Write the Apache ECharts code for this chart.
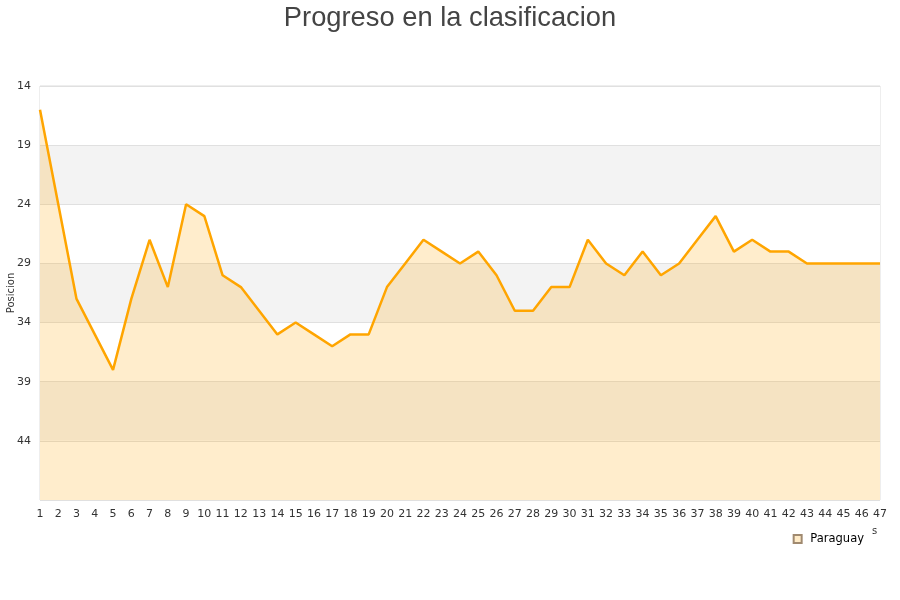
<!DOCTYPE html>
<html>
<head>
<meta charset="utf-8">
<script src="https://cdn.jsdelivr.net/npm/echarts@6/dist/echarts.min.js"></script>
<style>html,body{margin:0;padding:0;background:#fff;}#c{width:900px;height:600px;}</style>
</head>
<body>
<div id="c"></div>
<script>
var jornadas = [];
for (var i = 1; i <= 47; i++) jornadas.push(String(i));
var posiciones = [16,24,32,35,38,32,27,31,24,25,30,31,33,35,34,35,36,35,35,31,29,27,28,29,28,30,33,33,31,31,27,29,30,28,30,29,27,25,28,27,28,28,29,29,29,29,29];
var seriesName = 'Paraguay';
var yTicks = [14,19,24,29,34,39,44];

var chart = echarts.init(document.getElementById('c'), null, {renderer: 'canvas'});
chart.setOption({
  animation: false,
  backgroundColor: '#fff',
  title: {
    text: 'Progreso en la clasificacion',
    left: 'center',
    top: 0,
    textStyle: {fontFamily: 'Liberation Sans', fontSize: 27.3, fontWeight: 'normal', color: '#444'}
  },
  grid: {left: 40, right: 20, top: 86, bottom: 100, containLabel: false, outerBoundsMode: 'none',
         show: true, borderColor: '#ddd', borderWidth: 1},
  legend: {
    data: [seriesName],
    right: 36, top: 533, padding: 0,
    icon: 'rect', itemWidth: 8, itemHeight: 8, itemGap: 10,
    formatter: function (n) { return ' ' + n; },
    textStyle: {fontFamily: 'DejaVu Sans', fontSize: 11.5, color: '#000'}
  },
  xAxis: {
    type: 'category',
    data: jornadas,
    boundaryGap: false,
    axisLine: {show: false},
    axisTick: {show: false},
    axisLabel: {fontFamily: 'DejaVu Sans', fontSize: 11, color: '#333', margin: 9, interval: 0},
    splitLine: {show: false}
  },
  yAxis: {
    type: 'value',
    inverse: true,
    min: 14, max: 49, interval: 5,
    name: 'Posicion',
    nameLocation: 'middle',
    nameGap: 24,
    nameMoveOverlap: false,
    nameTextStyle: {fontFamily: 'DejaVu Sans', fontSize: 10, color: '#333'},
    axisLine: {show: false},
    axisTick: {show: false},
    axisLabel: {fontFamily: 'DejaVu Sans', fontSize: 11, color: '#333', margin: 9,
      formatter: function (v) { return yTicks.indexOf(v) >= 0 ? String(v) : ''; }},
    splitLine: {show: true, lineStyle: {color: '#e0e0e0', width: 1}},
    splitArea: {show: true, areaStyle: {color: ['#ffffff', '#f3f3f3']}}
  },
  series: [{
    name: seriesName,
    type: 'line',
    data: posiciones,
    symbol: 'none',
    lineStyle: {color: '#ffa500', width: 2.5},
    itemStyle: {color: 'rgba(255,165,0,0.22)', borderColor: '#a08a70', borderWidth: 1},
    areaStyle: {color: 'rgba(255,165,0,0.2)', opacity: 1, origin: 'end'}
  }],
  graphic: [{
    type: 'text', left: 872, top: 526,
    style: {text: 's', font: '10px DejaVu Sans', fill: '#333'}
  }]
});
</script>
</body>
</html>
